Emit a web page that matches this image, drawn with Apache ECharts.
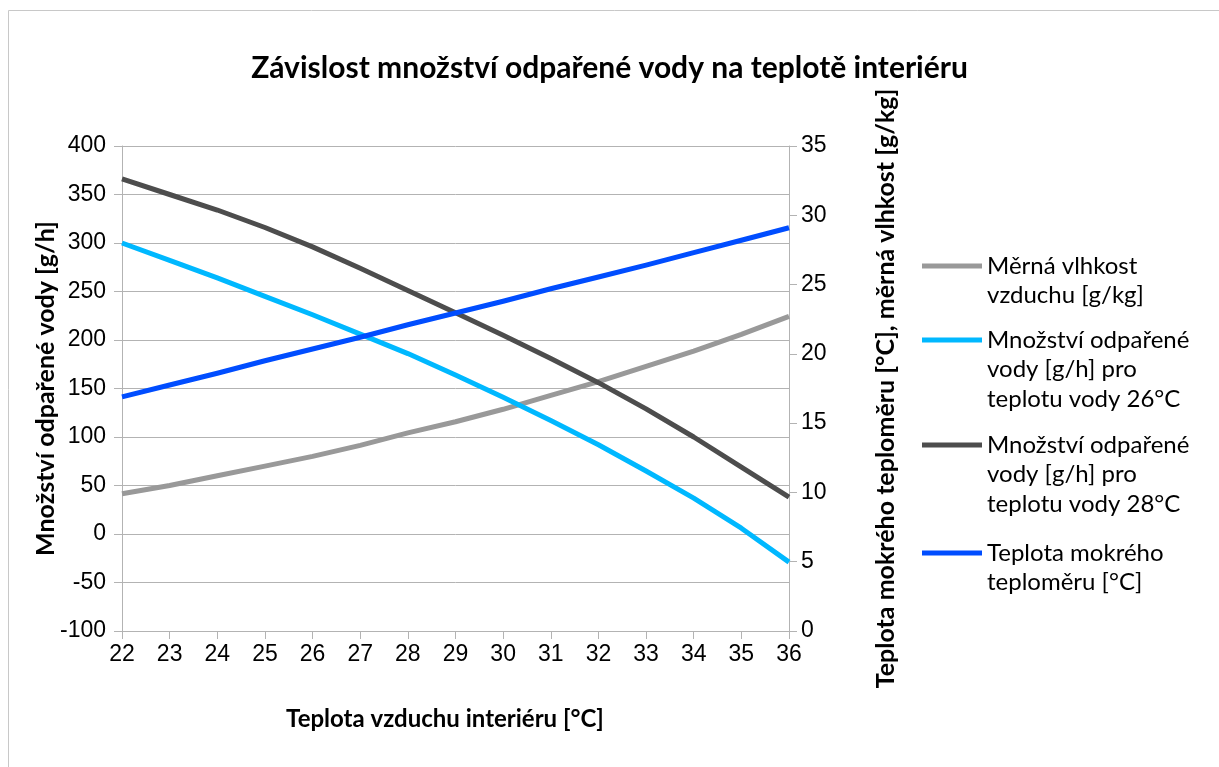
<!DOCTYPE html>
<html>
<head>
<meta charset="utf-8">
<script src="https://cdn.jsdelivr.net/npm/echarts@6/dist/echarts.min.js"></script>
<style>
  html, body { margin: 0; padding: 0; background: #fff; }
  #chart { width: 1219px; height: 767px; }
</style>
</head>
<body>
<div id="chart"></div>
<script>
// teplota vzduchu interiéru [°C]
const temps = [22, 23, 24, 25, 26, 27, 28, 29, 30, 31, 32, 33, 34, 35, 36];
// měrná vlhkost vzduchu [g/kg] (pravá osa)
const humidity = [9.9, 10.5, 11.2, 11.9, 12.6, 13.4, 14.3, 15.1, 16.0, 17.0, 18.0, 19.1, 20.2, 21.4, 22.7];
// množství odpařené vody [g/h], voda 26 °C (levá osa)
const evap26 = [300, 282, 264, 245, 226, 206, 186, 164, 141, 117, 92, 65, 37, 6, -29];
// množství odpařené vody [g/h], voda 28 °C (levá osa)
const evap28 = [366, 350, 334, 316, 296, 274, 251, 228, 205, 181, 156, 129, 100, 69, 38];
// teplota mokrého teploměru [°C] (pravá osa)
const wetBulb = [16.9, 17.75, 18.6, 19.5, 20.35, 21.2, 22.1, 22.95, 23.8, 24.7, 25.55, 26.4, 27.3, 28.2, 29.1];

const seriesNames = [
  'Měrná vlhkost\nvzduchu [g/kg]',
  'Množství odpařené\nvody [g/h] pro\nteplotu vody 26°C',
  'Množství odpařené\nvody [g/h] pro\nteplotu vody 28°C',
  'Teplota mokrého\nteploměru [°C]'
];
const seriesColors = ['#999999', '#00b8ff', '#4d4d4d', '#004dff'];
const seriesValues = [humidity, evap26, evap28, wetBulb];
const seriesAxis = [1, 0, 0, 1];
const legendCenters = [266, 340, 445, 553]; //y středu ikony legendy

const gridCol = '#b3b3b3';
const lineH = 29.5;

let chart = echarts.init(document.getElementById('chart'), null, { renderer: 'canvas' });

let series = [], legends = [];
for (let i = 0; i < seriesNames.length; i++) {
  series.push({
    type: 'line',
    name: seriesNames[i],
    yAxisIndex: seriesAxis[i],
    data: temps.map((t, k) => [t, seriesValues[i][k]]),
    showSymbol: false,
    smooth: false,
    lineStyle: { width: 5, color: seriesColors[i], join: 'round' },
    itemStyle: { color: seriesColors[i] },
    z: 2 + i,
  });
  let n = seriesNames[i].split('\n').length;
  legends.push({
    data: [seriesNames[i]],
    left: 922,
    top: legendCenters[i] - (n - 1) * lineH - lineH / 2,
    padding: 0,
    icon: 'rect',
    itemWidth: 60,
    itemHeight: 5,
    selectedMode: false,
    //prázdné řádky nahoře, aby ikona stála u prvního řádku textu
    formatter: name => '\n'.repeat(n - 1) + name,
    textStyle: {
      fontFamily: 'Lato',
      fontSize: 24,
      color: '#000',
      lineHeight: lineH,
    },
  });
}

const tickLabel = { fontFamily: 'Liberation Sans', fontSize: 23, color: '#000' };
const axisName = { fontFamily: 'Lato', fontSize: 25, fontWeight: 'bold', color: '#000' };

chart.setOption({
  animation: false,
  backgroundColor: '#fff',
  title: {
    text: 'Závislost množství odpařené vody na teplotě interiéru',
    left: 'center',
    top: 53,
    padding: 0,
    textStyle: { fontFamily: 'Lato', fontSize: 30, fontWeight: 'bold', color: '#000' },
  },
  graphic: [
    {
      type: 'rect',
      shape: { x: 8.5, y: 10.5, width: 1300, height: 900 },
      style: { fill: 'none', stroke: '#c8c8c8', lineWidth: 1 },
      silent: true,
    },
  ],
  legend: legends,
  grid: { left: 122, right: 430, top: 146, bottom: 136 },
  xAxis: {
    type: 'value',
    min: 22,
    max: 36,
    interval: 1,
    name: 'Teplota vzduchu interiéru [°C]',
    nameLocation: 'middle',
    nameGap: 76,
    nameTextStyle: Object.assign({ padding: [0, 21, 0, 0] }, axisName, { fontSize: 24 }),
    axisLine: { show: true, onZero: false, lineStyle: { color: gridCol, width: 1 } },
    axisTick: { show: true, length: 8, lineStyle: { color: gridCol } },
    axisLabel: Object.assign({ margin: 12 }, tickLabel),
    splitLine: { show: false },
  },
  yAxis: [
    {
      type: 'value',
      min: -100,
      max: 400,
      interval: 50,
      name: 'Množství odpařené vody [g/h]',
      nameLocation: 'middle',
      nameGap: 64,
      nameMoveOverlap: false,
      nameTextStyle: axisName,
      axisLine: { show: true, onZero: false, lineStyle: { color: gridCol, width: 1 } },
      axisTick: { show: true, length: 8, lineStyle: { color: gridCol } },
      axisLabel: Object.assign({ margin: 16 }, tickLabel),
      splitLine: { show: true, lineStyle: { color: gridCol, width: 1 } },
    },
    {
      type: 'value',
      position: 'right',
      min: 0,
      max: 35,
      interval: 5,
      name: 'Teplota mokrého teploměru [°C], měrná vlhkost [g/kg]',
      nameLocation: 'middle',
      nameGap: 84,
      nameTextStyle: axisName,
      axisLine: { show: true, onZero: false, lineStyle: { color: gridCol, width: 1 } },
      axisTick: { show: true, length: 8, lineStyle: { color: gridCol } },
      axisLabel: Object.assign({ margin: 12 }, tickLabel),
      splitLine: { show: false },
    },
  ],
  series: series,
});
</script>
</body>
</html>
